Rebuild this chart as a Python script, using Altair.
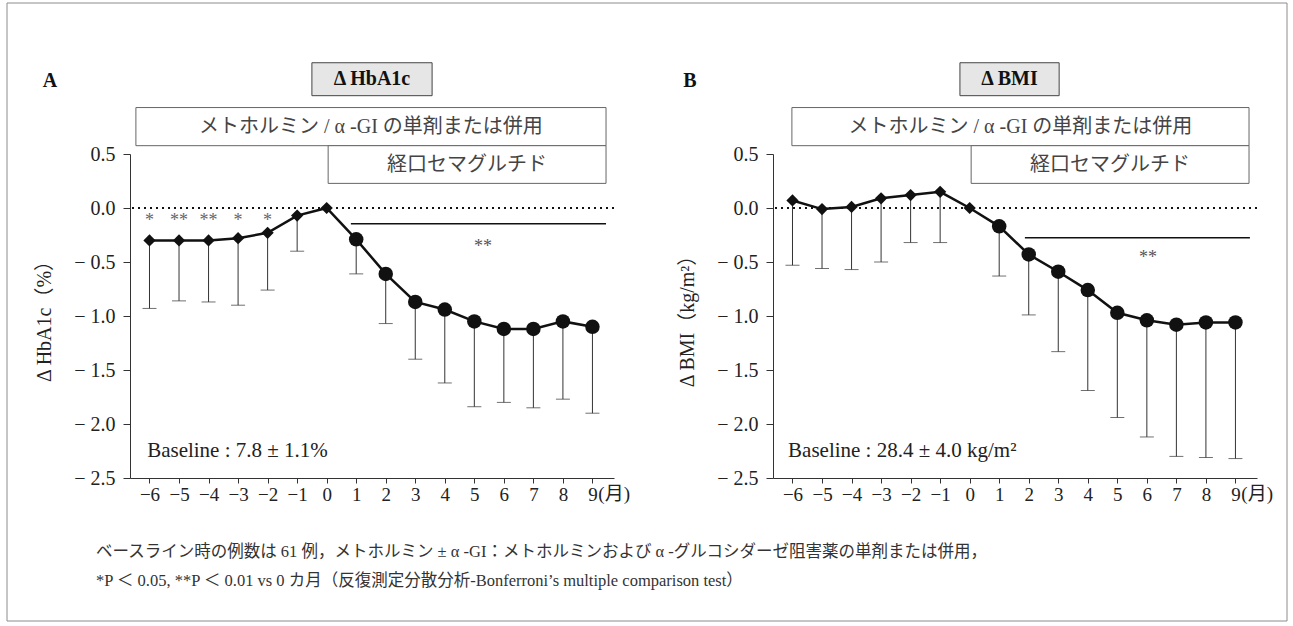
import altair as alt
import pandas as pd
import numpy as np

# ---------------- data ----------------
months = list(range(-6, 10))
hba1c_mean = [-0.30, -0.30, -0.30, -0.28, -0.23, -0.07, 0.00, -0.29, -0.61, -0.87, -0.94, -1.05, -1.12, -1.12, -1.05, -1.10]
hba1c_low = [-0.93, -0.86, -0.87, -0.90, -0.76, -0.40, np.nan, -0.61, -1.07, -1.40, -1.62, -1.84, -1.80, -1.85, -1.77, -1.90]
bmi_mean = [0.07, -0.01, 0.01, 0.09, 0.12, 0.15, 0.00, -0.17, -0.43, -0.59, -0.76, -0.97, -1.04, -1.08, -1.06, -1.06]
bmi_low = [-0.53, -0.56, -0.57, -0.50, -0.32, -0.32, np.nan, -0.63, -0.99, -1.33, -1.69, -1.94, -2.12, -2.30, -2.31, -2.32]
star_months = [-6, -5, -4, -3, -2]
star_labels = ["*", "**", "**", "*", "*"]
y_ticks = [0.5, 0.0, -0.5, -1.0, -1.5, -2.0, -2.5]

box_top_text = "メトホルミン / α -GI の単剤または併用"
box_sub_text = "経口セマグルチド"
footnote1 = "ベースライン時の例数は 61 例，メトホルミン ± α -GI：メトホルミンおよび α -グルコシダーゼ阻害薬の単剤または併用，"
footnote2 = "*P ＜ 0.05,  **P ＜ 0.01 vs 0 カ月（反復測定分散分析-Bonferroni’s multiple comparison test）"

FONT = "Liberation Serif, Noto Sans CJK JP"
XDOM = [-6.66, 9.73]
W, H = 484, 324
ONE = pd.DataFrame({"k": [0]})

XS = alt.Scale(domain=XDOM, nice=False, zero=False)
YS = alt.Scale(domain=[-2.5, 0.5], nice=False, zero=False)
XAX = alt.Axis(values=months, title=None, grid=False, tickSize=5, labelPadding=2,
               labelBaseline="top", labelFontSize=19, labelFont="Liberation Serif",
               labelColor="#222", domainColor="#333", tickColor="#333",
               labelFlush=False, labelOverlap=False,
               labelExpr="datum.value < 0 ? '−' + (-datum.value) : '' + datum.value")


def make_yax(title):
    return alt.Axis(values=y_ticks, title=title, titleX=-86, titleBaseline="middle",
                    titleFont=FONT, titleFontSize=20, titleFontWeight="normal", titleColor="#222",
                    grid=False, tickSize=7, labelPadding=8, labelFontSize=20,
                    labelFont="Liberation Serif", labelColor="#222", domainColor="#333",
                    tickColor="#333",
                    labelExpr="datum.value < 0 ? '− ' + format(-datum.value, '.1f') : format(datum.value, '.1f')")


def panel(mean, low, ytitle, letter, letter_x, title, tb_x, tb_x2, top_x, base_text, base_x,
          sig_x, sig_x2, sig_y, sig_tx, sig_ty, stars=None, extra=()):
    yax = make_yax(ytitle)

    def xd(v):
        return alt.XDatum(v, type="quantitative", scale=XS, axis=XAX)

    def yd(v):
        return alt.YDatum(v, type="quantitative", scale=YS, axis=yax)

    def text_layer(x, y, s, size=20, weight="normal", align="center", baseline="middle", color="#333"):
        return alt.Chart(ONE).mark_text(font=FONT, fontSize=size, fontWeight=weight, align=align,
                                        baseline=baseline, color=color).encode(
            x=xd(x), y=yd(y), text=alt.value(s))

    def rect_layer(x, x2, y, y2, fill="white", stroke="#666"):
        return alt.Chart(ONE).mark_rect(fill=fill, stroke=stroke, strokeWidth=1).encode(
            x=xd(x), x2=alt.X2Datum(x2), y=yd(y), y2=alt.Y2Datum(y2))

    df = pd.DataFrame({"month": months, "mean": mean, "low": low})
    err_df = df.dropna()
    X = alt.X("month:Q", scale=XS, axis=XAX)
    Y = alt.Y("mean:Q", scale=YS, axis=yax)
    base = alt.Chart(df)

    layers = []
    layers.append(alt.Chart(ONE).mark_rule(strokeDash=[2, 4], strokeWidth=2, color="#111").encode(y=yd(0)))
    layers.append(alt.Chart(err_df).mark_rule(color="#333", strokeWidth=1).encode(
        x=X, y=Y, y2=alt.Y2("low:Q")))
    layers.append(alt.Chart(err_df).mark_tick(orient="horizontal", size=14, thickness=1, color="#333").encode(
        x=X, y=alt.Y("low:Q", scale=YS, axis=yax)))
    layers.append(base.mark_line(color="#111", strokeWidth=2.5).encode(x=X, y=Y))
    layers.append(base.transform_filter("datum.month <= 0").mark_point(
        shape="diamond", filled=True, size=150, color="#111", opacity=1).encode(x=X, y=Y))
    layers.append(base.transform_filter("datum.month > 0").mark_point(
        shape="circle", filled=True, size=210, color="#111", opacity=1).encode(x=X, y=Y))
    # significance bar
    layers.append(alt.Chart(ONE).mark_rule(strokeWidth=1.5, color="#111").encode(
        x=xd(sig_x), x2=alt.X2Datum(sig_x2), y=yd(sig_y)))
    layers.append(text_layer(sig_tx, sig_ty, "**", size=18, baseline="alphabetic", color="#555"))
    if stars is not None:
        sdf = pd.DataFrame({"month": stars[0], "lab": stars[1]})
        layers.append(alt.Chart(sdf).mark_text(font="Liberation Serif", fontSize=18, baseline="alphabetic",
                                               color="#666").encode(x=X, y=yd(-0.167), text="lab:N"))
    # treatment boxes
    layers.append(rect_layer(top_x, 9.46, 0.93, 0.577))
    layers.append(text_layer((top_x + 9.46) / 2, 0.753, box_top_text, color="#444"))
    layers.append(rect_layer(0.05, 9.46, 0.577, 0.228))
    layers.append(text_layer((0.05 + 9.46) / 2, 0.40, box_sub_text, color="#444"))
    # title box
    layers.append(rect_layer(tb_x, tb_x2, 1.345, 1.04, fill="#e6e6e6", stroke="#444"))
    layers.append(text_layer((tb_x + tb_x2) / 2, 1.19, title, size=20, weight="bold", color="#111"))
    layers.append(text_layer(letter_x, 1.18, letter, size=20, weight="bold", color="#111"))
    # baseline text and month unit
    layers.append(text_layer(base_x, -2.247, base_text, size=21, align="left", color="#222"))
    layers.append(text_layer(9.2, -2.565, "(月)", size=19, align="left", baseline="top", color="#222"))
    layers.extend(extra)
    return alt.layer(*layers).properties(width=W, height=H)


frame = alt.Chart(ONE).mark_rect(fillOpacity=0, stroke="#8c8c8c", strokeWidth=1).encode(
    x=alt.value(-123), x2=alt.value(1157), y=alt.value(-151), y2=alt.value(467))
fn1 = alt.Chart(ONE).mark_text(font=FONT, fontSize=16.5, align="left", baseline="middle", color="#333").encode(
    x=alt.value(-34), y=alt.value(398), text=alt.value(footnote1))
fn2 = alt.Chart(ONE).mark_text(font=FONT, fontSize=16.5, align="left", baseline="middle", color="#333").encode(
    x=alt.value(-34), y=alt.value(427), text=alt.value(footnote2))

panel_a = panel(hba1c_mean, hba1c_low, "Δ HbA1c（%）", "A", -9.37, "Δ HbA1c", -0.50, 3.57, -6.46,
                "Baseline : 7.8 ± 1.1%", -6.08, 0.82, 9.46, -0.145, 5.29, -0.405,
                stars=(star_months, star_labels), extra=(frame, fn1, fn2))
panel_b = panel(bmi_mean, bmi_low, "Δ BMI（kg/m²）", "B", -9.47, "Δ BMI", -0.33, 3.03, -6.02,
                "Baseline : 28.4 ± 4.0 kg/m²", -6.15, 1.87, 9.49, -0.275, 6.04, -0.509)

chart = alt.hconcat(panel_a, panel_b, spacing=159, bounds="flush").properties(
    padding={"left": 6, "top": 2, "right": 0, "bottom": 0},
    background="white",
).configure_view(strokeWidth=0)

chart.save("out.html", embed_options={"renderer": "svg", "actions": False})
